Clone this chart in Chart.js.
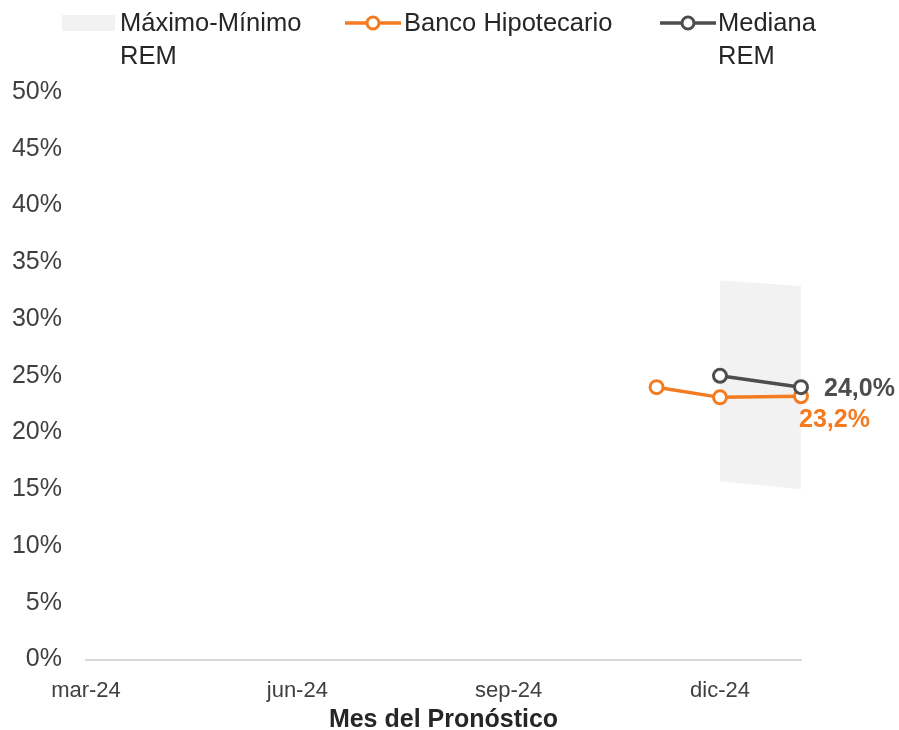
<!DOCTYPE html>
<html><head><meta charset="utf-8">
<script src="https://cdn.jsdelivr.net/npm/chart.js@4"></script>
<style>
html,body{margin:0;padding:0;background:#fff;}
#wrap{position:relative;width:899px;height:730px;}
#legend{position:absolute;left:0;top:0;width:899px;height:80px;font-family:"Liberation Sans",Arial,sans-serif;font-size:25.5px;color:#262626;}
.item{position:absolute;top:6px;line-height:33px;}
.txt{position:absolute;white-space:nowrap;}
#xtitle{position:absolute;left:86px;width:715px;top:704px;text-align:center;font-family:"Liberation Sans",Arial,sans-serif;font-weight:bold;font-size:25px;line-height:28px;color:#262626;}
</style></head>
<body><div id="wrap">
<canvas id="c" width="899" height="730"></canvas>
<div id="legend">
  <div class="item" style="left:62px;"><div style="position:absolute;left:0;top:9px;width:53px;height:16px;background:#f2f2f2"></div><div class="txt" style="left:58px;">Máximo-Mínimo<br>REM</div></div>
  <div class="item" style="left:345px;"><svg style="position:absolute;left:0;top:5px" width="56" height="24"><line x1="0" y1="12" x2="56" y2="12" stroke="#f47b20" stroke-width="3.5"/><circle cx="28" cy="12" r="6" fill="#fff" stroke="#f47b20" stroke-width="3"/></svg><div class="txt" style="left:59px;">Banco Hipotecario</div></div>
  <div class="item" style="left:660px;"><svg style="position:absolute;left:0;top:5px" width="56" height="24"><line x1="0" y1="12" x2="56" y2="12" stroke="#4d4d4d" stroke-width="3.5"/><circle cx="28" cy="12" r="6" fill="#fff" stroke="#4d4d4d" stroke-width="3"/></svg><div class="txt" style="left:58px;">Mediana<br>REM</div></div>
</div>
<div id="xtitle">Mes del Pronóstico</div>
</div>
<script>
// x values: months since mar-24 (0 = mar-24)
const tickPositions = [0, 3, 6, 9];
const tickLabels = ['mar-24', 'jun-24', 'sep-24', 'dic-24'];
const bancoX = [8.1, 9, 10.15];
const bancoY = [24.0, 23.1, 23.2];
const medianaX = [9, 10.15];
const medianaY = [25.0, 24.0];
const bandX = [9, 10.15];
const bandMax = [33.4, 32.9];
const bandMin = [15.7, 15.0];
const bancoLabel = '23,2%';
const medianaLabel = '24,0%';

const pts = (xs, ys) => xs.map((x, i) => ({x: x, y: ys[i]}));
const ORANGE = '#f47b20', GRAY = '#4d4d4d';

const labelPlugin = {
  id: 'endLabels',
  afterDatasetsDraw(chart) {
    const ctx = chart.ctx;
    ctx.save();
    ctx.font = 'bold 25px "Liberation Sans", Arial, sans-serif';
    ctx.textBaseline = 'middle';
    ctx.textAlign = 'left';
    const mMeta = chart.getDatasetMeta(3);
    const mp = mMeta.data[mMeta.data.length - 1];
    ctx.fillStyle = GRAY;
    ctx.fillText(medianaLabel, mp.x + 23, mp.y + 2);
    const bMeta = chart.getDatasetMeta(2);
    const bp = bMeta.data[bMeta.data.length - 1];
    ctx.fillStyle = ORANGE;
    ctx.fillText(bancoLabel, bp.x - 2, bp.y + 24);
    ctx.restore();
  }
};

new Chart(document.getElementById('c'), {
  type: 'line',
  data: {
    datasets: [
      {label: 'Mínimo', order: 6, data: pts(bandX, bandMin), borderWidth: 0, pointRadius: 0, fill: false, borderColor: 'rgba(0,0,0,0)'},
      {label: 'Máximo-Mínimo REM', order: 5, data: pts(bandX, bandMax), borderWidth: 0, pointRadius: 0, fill: '-1', backgroundColor: '#f2f2f2', borderColor: 'rgba(0,0,0,0)'},
      {label: 'Banco Hipotecario', order: 1, clip: false, data: pts(bancoX, bancoY), borderColor: ORANGE, borderWidth: 3.5, pointRadius: 6.5, pointBorderWidth: 3, pointBackgroundColor: '#fff', pointBorderColor: ORANGE, tension: 0},
      {label: 'Mediana REM', order: 0, clip: false, data: pts(medianaX, medianaY), borderColor: GRAY, borderWidth: 3.5, pointRadius: 6.5, pointBorderWidth: 3, pointBackgroundColor: '#fff', pointBorderColor: GRAY, tension: 0}
    ]
  },
  options: {
    responsive: false,
    animation: false,
    layout: {padding: {top: 92, right: 98, left: 0, bottom: 8}},
    plugins: {legend: {display: false}, tooltip: {enabled: false}},
    scales: {
      x: {
        type: 'linear', min: 0, max: 10.15,
        afterBuildTicks: (s) => { s.ticks = tickPositions.map(v => ({value: v})); },
        ticks: {
          callback: (v) => tickLabels[tickPositions.indexOf(v)],
          font: {family: '"Liberation Sans", Arial, sans-serif', size: 22},
          color: '#404040', padding: 18, maxRotation: 0, autoSkip: false
        },
        grid: {display: false, drawTicks: false},
        border: {display: true, color: '#d9d9d9', width: 2},
        title: {display: false}
      },
      y: {
        min: 0, max: 50,
        ticks: {stepSize: 5, callback: (v) => v + '%', font: {family: '"Liberation Sans", Arial, sans-serif', size: 25}, color: '#404040', padding: 24},
        grid: {display: false, drawTicks: false},
        border: {display: false},
        afterFit: (s) => { s.width = 86; }
      }
    }
  },
  plugins: [labelPlugin]
});
</script>
</body></html>
